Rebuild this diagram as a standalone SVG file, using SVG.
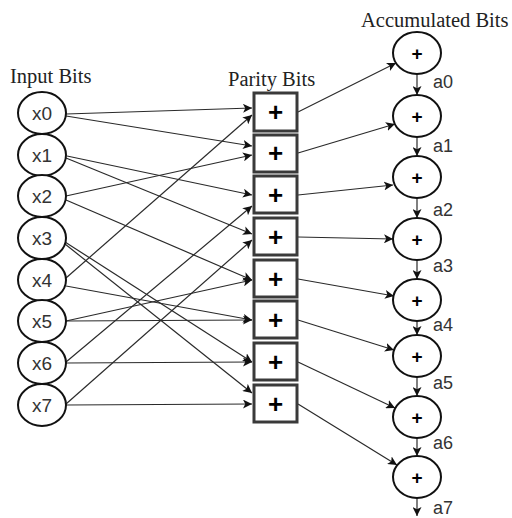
<svg xmlns="http://www.w3.org/2000/svg" width="512" height="518" viewBox="0 0 512 518">
  <defs>
    <marker id="arrow" viewBox="0 0 10 10" refX="10" refY="5" markerWidth="9" markerHeight="9" markerUnits="userSpaceOnUse" orient="auto">
      <path d="M0,0 L10,5 L0,10 L2.5,5 Z" fill="#111"/>
    </marker>
  </defs>
  <style>
    .heading { font-family: "Liberation Serif", "Times New Roman", serif; font-size: 20.5px; fill: #222; }
    .lbl { font-family: "Liberation Sans", Arial, sans-serif; font-size: 19px; fill: #333; }
    .albl { font-family: "Liberation Sans", Arial, sans-serif; font-size: 18px; fill: #333; }
    .node { fill: #fff; stroke: #111; stroke-width: 2; }
    .box { fill: #fff; stroke: #3a3a3a; stroke-width: 3; }
    .plus { font-family: "Liberation Sans", Arial, sans-serif; font-weight: bold; fill: #000; text-anchor: middle; }
    .edge { fill: none; stroke: #2a2a2a; stroke-width: 1.2; marker-end: url(#arrow); }
  </style>
  <rect width="512" height="518" fill="#fff"/>

  <text class="heading" x="10" y="83">Input Bits</text>
  <text class="heading" x="228" y="86">Parity Bits</text>
  <text class="heading" x="361" y="27">Accumulated Bits</text>

  <g id="connectors">
    <!-- inputs to parity bits -->
    <line class="edge" x1="66" y1="114" x2="252" y2="108"/>
    <line class="edge" x1="66" y1="116" x2="252" y2="146"/>
    <line class="edge" x1="67" y1="156" x2="252" y2="195"/>
    <line class="edge" x1="66" y1="158" x2="252" y2="234"/>
    <line class="edge" x1="66" y1="196" x2="252" y2="155"/>
    <line class="edge" x1="66" y1="200" x2="252" y2="280"/>
    <line class="edge" x1="65" y1="242" x2="252" y2="362"/>
    <line class="edge" x1="65" y1="244" x2="252" y2="393"/>
    <line class="edge" x1="66" y1="278" x2="252" y2="115"/>
    <line class="edge" x1="66" y1="286" x2="252" y2="320"/>
    <line class="edge" x1="66" y1="321" x2="252" y2="280"/>
    <line class="edge" x1="66" y1="321" x2="252" y2="320"/>
    <line class="edge" x1="66" y1="362" x2="252" y2="206"/>
    <line class="edge" x1="66" y1="363" x2="252" y2="362"/>
    <line class="edge" x1="66" y1="404" x2="252" y2="240"/>
    <line class="edge" x1="66" y1="405" x2="252" y2="404"/>
    <!-- parity bits to accumulators -->
    <line class="edge" x1="298" y1="112" x2="396" y2="63"/>
    <line class="edge" x1="298" y1="153" x2="395" y2="124"/>
    <line class="edge" x1="298" y1="195" x2="393" y2="185"/>
    <line class="edge" x1="298" y1="237" x2="393" y2="239"/>
    <line class="edge" x1="298" y1="279" x2="394" y2="296"/>
    <line class="edge" x1="298" y1="320" x2="394" y2="350"/>
    <line class="edge" x1="298" y1="362" x2="395" y2="408"/>
    <line class="edge" x1="298" y1="404" x2="397" y2="465"/>
    <!-- accumulator chain -->
    <line class="edge" x1="417" y1="74" x2="417" y2="95"/>
    <line class="edge" x1="417" y1="137" x2="417" y2="156"/>
    <line class="edge" x1="417" y1="198" x2="417" y2="218"/>
    <line class="edge" x1="417" y1="260" x2="417" y2="279"/>
    <line class="edge" x1="417" y1="321" x2="417" y2="335"/>
    <line class="edge" x1="417" y1="377" x2="417" y2="396"/>
    <line class="edge" x1="417" y1="438" x2="417" y2="456"/>
    <line class="edge" x1="417" y1="498" x2="417" y2="516"/>
  </g>

  <g id="x0"><ellipse class="node" cx="42" cy="113" rx="24" ry="21"/><text class="lbl" x="42" y="120" text-anchor="middle">x0</text></g>
  <g id="x1"><ellipse class="node" cx="42" cy="155" rx="24" ry="21"/><text class="lbl" x="42" y="162" text-anchor="middle">x1</text></g>
  <g id="x2"><ellipse class="node" cx="42" cy="196" rx="24" ry="21"/><text class="lbl" x="42" y="203" text-anchor="middle">x2</text></g>
  <g id="x3"><ellipse class="node" cx="42" cy="238" rx="24" ry="21"/><text class="lbl" x="42" y="245" text-anchor="middle">x3</text></g>
  <g id="x4"><ellipse class="node" cx="42" cy="280" rx="24" ry="21"/><text class="lbl" x="42" y="287" text-anchor="middle">x4</text></g>
  <g id="x5"><ellipse class="node" cx="42" cy="321" rx="24" ry="21"/><text class="lbl" x="42" y="328" text-anchor="middle">x5</text></g>
  <g id="x6"><ellipse class="node" cx="42" cy="363" rx="24" ry="21"/><text class="lbl" x="42" y="370" text-anchor="middle">x6</text></g>
  <g id="x7"><ellipse class="node" cx="42" cy="405" rx="24" ry="21"/><text class="lbl" x="42" y="412" text-anchor="middle">x7</text></g>

  <g id="p0"><rect class="box" x="254" y="93" width="43" height="38"/><text class="plus" x="275.5" y="121" font-size="26">+</text></g>
  <g id="p1"><rect class="box" x="254" y="135" width="43" height="37"/><text class="plus" x="275.5" y="162" font-size="26">+</text></g>
  <g id="p2"><rect class="box" x="254" y="176" width="43" height="37"/><text class="plus" x="275.5" y="204" font-size="26">+</text></g>
  <g id="p3"><rect class="box" x="254" y="218" width="43" height="37"/><text class="plus" x="275.5" y="246" font-size="26">+</text></g>
  <g id="p4"><rect class="box" x="254" y="260" width="43" height="37"/><text class="plus" x="275.5" y="288" font-size="26">+</text></g>
  <g id="p5"><rect class="box" x="254" y="301" width="43" height="37"/><text class="plus" x="275.5" y="329" font-size="26">+</text></g>
  <g id="p6"><rect class="box" x="254" y="343" width="43" height="37"/><text class="plus" x="275.5" y="371" font-size="26">+</text></g>
  <g id="p7"><rect class="box" x="254" y="385" width="43" height="37"/><text class="plus" x="275.5" y="413" font-size="26">+</text></g>

  <g id="a0"><ellipse class="node" cx="417" cy="53" rx="24" ry="21"/><text class="plus" x="417" y="60" font-size="19">+</text><text class="albl" x="433" y="88">a0</text></g>
  <g id="a1"><ellipse class="node" cx="417" cy="116" rx="24" ry="21"/><text class="plus" x="417" y="123" font-size="19">+</text><text class="albl" x="433" y="152">a1</text></g>
  <g id="a2"><ellipse class="node" cx="417" cy="177" rx="24" ry="21"/><text class="plus" x="417" y="184" font-size="19">+</text><text class="albl" x="433" y="216">a2</text></g>
  <g id="a3"><ellipse class="node" cx="417" cy="239" rx="24" ry="21"/><text class="plus" x="417" y="246" font-size="19">+</text><text class="albl" x="433" y="272">a3</text></g>
  <g id="a4"><ellipse class="node" cx="417" cy="300" rx="24" ry="21"/><text class="plus" x="417" y="307" font-size="19">+</text><text class="albl" x="433" y="331">a4</text></g>
  <g id="a5"><ellipse class="node" cx="417" cy="356" rx="24" ry="21"/><text class="plus" x="417" y="363" font-size="19">+</text><text class="albl" x="433" y="389">a5</text></g>
  <g id="a6"><ellipse class="node" cx="417" cy="417" rx="24" ry="21"/><text class="plus" x="417" y="424" font-size="19">+</text><text class="albl" x="433" y="449">a6</text></g>
  <g id="a7"><ellipse class="node" cx="417" cy="477" rx="24" ry="21"/><text class="plus" x="417" y="484" font-size="19">+</text><text class="albl" x="433" y="514">a7</text></g>
</svg>
